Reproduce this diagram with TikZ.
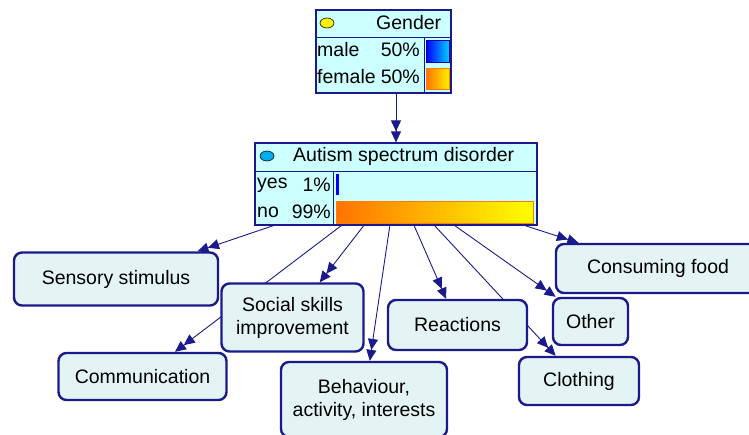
\documentclass[tikz,border=0pt]{standalone}
\usepackage{fontspec}
\setmainfont{Liberation Sans}
\usepackage{xcolor}
\usetikzlibrary{arrows.meta,backgrounds}

\definecolor{netline}{HTML}{1A1A8C}
\definecolor{nodefill}{HTML}{E4F4F4}
\definecolor{varfill}{HTML}{CCFFFF}

\begin{document}
\begin{tikzpicture}[
    x=1pt, y=-1pt,
    every node/.style={font=\fontsize{19.5}{23}\selectfont, text=black},
    factor/.style={rectangle, rounded corners=8pt, draw=netline, line width=2.4pt, fill=nodefill, align=center, inner sep=0pt},
    varbox/.style={rectangle, draw=netline, line width=1.2pt, fill=varfill, inner sep=0pt},
    rowtext/.style={inner sep=0pt, anchor=west},
    divider/.style={draw=netline, line width=1pt},
    link/.style={-{Triangle[length=11pt,width=10pt]Triangle[length=11pt,width=10pt]}, draw=netline, line width=0.9pt}
]
    \useasboundingbox (0,0) rectangle (749,434);
    \clip (0,0) rectangle (749,434);

    % Gender
    \node[varbox, minimum width=135pt, minimum height=83pt] (gender) at (383.5,51.5) {};
    \draw[divider] (gender.west |- 0,37) -- (gender.east |- 0,37);
    \draw[divider] (424,37) -- (424,93);
    \filldraw[fill=yellow, draw=black, line width=0.6pt] (327,23) ellipse (7pt and 5pt);
    \node[rowtext] (gtitle) at (376,23) {Gender};
    \node[rowtext] (male) at (317,50) {male};
    \node[rowtext, anchor=east] (malep) at (420,50) {50\%};
    \node[rowtext] (female) at (317,77) {female};
    \node[rowtext, anchor=east] (femalep) at (420,77) {50\%};
    \path[draw=blue!70!black, left color=blue, right color=cyan!80!blue] (426,40) rectangle (449,62);
    \path[draw=orange, left color=orange!90!red, right color=yellow!90!orange] (426,68) rectangle (449,89);

    % Autism spectrum disorder
    \node[varbox, minimum width=282pt, minimum height=82pt] (asd) at (396,184) {};
    \draw[divider] (asd.west |- 0,171) -- (asd.east |- 0,171);
    \draw[divider] (333,171) -- (333,225);
    \filldraw[fill=cyan, draw=black, line width=0.6pt] (267,156) ellipse (7pt and 5pt);
    \node[rowtext] (atitle) at (293,156) {Autism spectrum disorder};
    \node[rowtext] (yes) at (257,185) {yes};
    \node[rowtext, anchor=east] (yesp) at (331,185) {1\%};
    \node[rowtext] (no) at (257,212) {no};
    \node[rowtext, anchor=east] (nop) at (331,212) {99\%};
    \fill[blue] (336,174) rectangle (339,195);
    \path[draw=orange, left color=orange!90!red, right color=yellow] (336,201) rectangle (533,223);

    % Child nodes
    \node[factor, minimum width=204pt, minimum height=53pt] (sensory) at (116,279) {Sensory stimulus};
    \node[factor, minimum width=142pt, minimum height=68pt] (social) at (292.5,317.5) {Social skills\\improvement};
    \node[factor, minimum width=168pt, minimum height=47pt] (comm) at (142.5,376.5) {Communication};
    \node[factor, minimum width=166pt, minimum height=75pt] (behaviour) at (364,399.5) {Behaviour,\\activity, interests};
    \node[factor, minimum width=139pt, minimum height=50pt] (reactions) at (457.5,325) {Reactions};
    \node[factor, minimum width=75pt, minimum height=47pt] (other) at (590.5,321.5) {Other};
    \node[factor, minimum width=120pt, minimum height=48pt] (clothing) at (579,381) {Clothing};
    \node[factor, minimum width=204pt, minimum height=49pt] (food) at (658,268.5) {Consuming food};

    % Arcs
    \begin{scope}[on background layer]
        \draw[link] (gender.south -| asd.north) -- (asd.north);
        \draw[link] (asd) -- (sensory);
        \draw[link] (asd) -- (social);
        \draw[link] (asd) -- (comm);
        \draw[link] (asd) -- (behaviour);
        \draw[link] (asd) -- (reactions);
        \draw[link] (asd) -- (clothing);
        \draw[link] (asd) -- (other);
        \draw[link] (asd) -- (food);
    \end{scope}
\end{tikzpicture}
\end{document}
